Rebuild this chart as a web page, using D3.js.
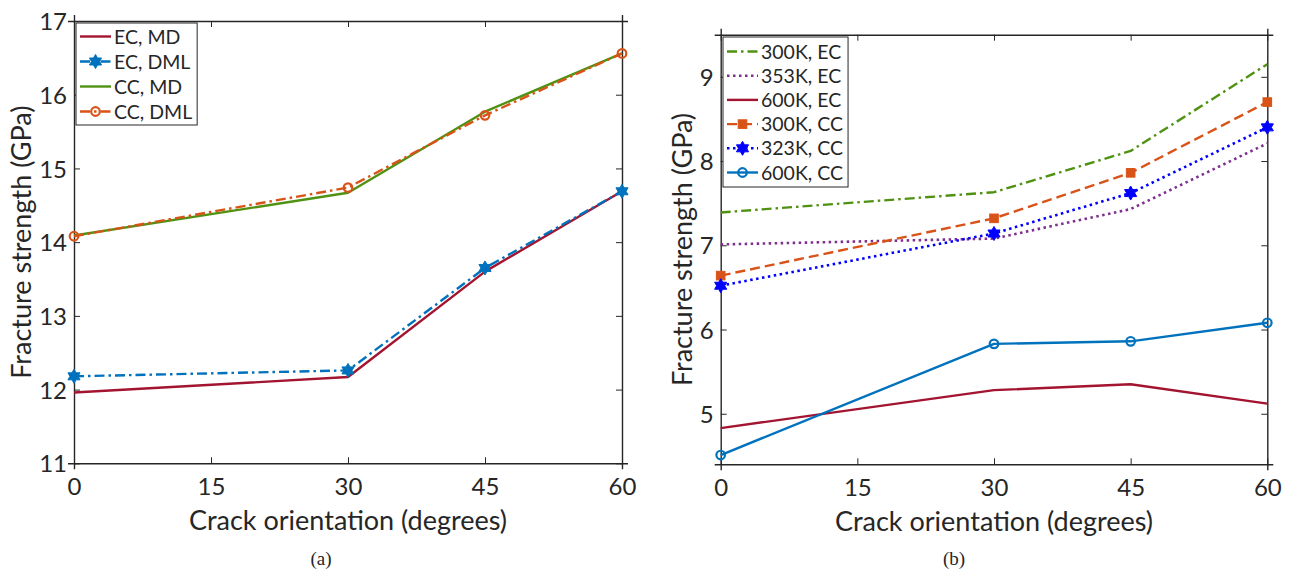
<!DOCTYPE html>
<html>
<head>
<meta charset="utf-8">
<script src="https://cdn.jsdelivr.net/npm/d3@7"></script>
<style>
  html, body { margin: 0; padding: 0; background: #fff; }
  svg { display: block; }
  text { font-family: Lato, "Open Sans", sans-serif; fill: #262626; }
</style>
</head>
<body>
<svg id="fig" width="1294" height="574"></svg>
<script>
// Crack orientation angles (degrees) where strength was evaluated
const angles = [0, 30, 45, 60];
const xTicks = [0, 15, 30, 45, 60];

// Panel (a): MD vs DML, edge crack (EC) and centre crack (CC)
const ecMD  = [11.96, 12.17, 13.60, 14.69];
const ecDML = [12.18, 12.26, 13.65, 14.69];
const ccMD  = [14.09, 14.67, 15.77, 16.56];
const ccDML = [14.08, 14.74, 15.72, 16.56];
const yTicksA = [11, 12, 13, 14, 15, 16, 17];
const labelsA = ["EC, MD", "EC, DML", "CC, MD", "CC, DML"];

// Panel (b): temperature dependence
const ec300 = [7.39, 7.63, 8.12, 9.15];
const ec353 = [7.01, 7.08, 7.43, 8.21];
const ec600 = [4.83, 5.28, 5.35, 5.12];
const cc300 = [6.64, 7.32, 7.86, 8.70];
const cc323 = [6.52, 7.14, 7.62, 8.40];
const cc600 = [4.51, 5.83, 5.86, 6.08];
const yTicksB = [5, 6, 7, 8, 9];
const labelsB = ["300K, EC", "353K, EC", "600K, EC", "300K, CC", "323K, CC", "600K, CC"];

const C = {
  red: "#A2142F", blue: "#0072BD", green: "#4F9212",
  orange: "#D95319", purple: "#7E2F8E", pure: "#0000FF"
};
const DASH = { solid: null, dashdot: "10,4,2.5,4", dashed: "10,5", dotted: "2.5,3.5" };

const svg = d3.select("#fig");

// six-pointed star marker
function hexagram(R) {
  const r = R / Math.sqrt(3), pts = [];
  for (let i = 0; i < 12; i++) {
    const a = -Math.PI / 2 + i * Math.PI / 6, rr = i % 2 ? r : R;
    pts.push([rr * Math.cos(a), rr * Math.sin(a)]);
  }
  return "M" + pts.map(p => p.join(",")).join("L") + "Z";
}

function drawMarker(g, type, color, x, y) {
  if (type === "star") {
    g.append("path").attr("d", hexagram(7)).attr("transform", `translate(${x},${y})`)
      .attr("fill", color).attr("stroke", color).attr("stroke-width", 1);
  } else if (type === "circle") {
    g.append("circle").attr("cx", x).attr("cy", y).attr("r", 4.3)
      .attr("fill", "none").attr("stroke", color).attr("stroke-width", 2.2);
  } else if (type === "square") {
    g.append("rect").attr("x", x - 4.3).attr("y", y - 4.3).attr("width", 8.6).attr("height", 8.6)
      .attr("fill", color).attr("stroke", color).attr("stroke-width", 1);
  }
}

function panel(cfg) {
  const x = d3.scaleLinear().domain([0, 60]).range([cfg.left, cfg.right]);
  const y = d3.scaleLinear().domain(cfg.yDomain).range([cfg.bottom, cfg.top]);
  const g = svg.append("g");
  const tl = 6;

  // axes with inward ticks, mirrored on top/right
  const ax = [
    d3.axisBottom(x).tickValues(xTicks).tickSize(tl).tickFormat(d3.format("d")),
    d3.axisTop(x).tickValues(xTicks).tickSize(tl).tickFormat(""),
    d3.axisLeft(y).tickValues(cfg.yTicks).tickSize(tl).tickFormat(d3.format("d")),
    d3.axisRight(y).tickValues(cfg.yTicks).tickSize(tl).tickFormat("")
  ];
  const pos = [
    `translate(0,${cfg.bottom})`, `translate(0,${cfg.top})`,
    `translate(${cfg.left},0)`, `translate(${cfg.right},0)`
  ];
  ax.forEach((a, i) => {
    const ag = g.append("g").attr("transform", pos[i]).call(a);
    ag.select(".domain").attr("stroke", "#262626").attr("stroke-width", 1.4);
    ag.selectAll(".tick line").attr("stroke", "#262626").attr("stroke-width", 1)
      .attr(i < 2 ? "y2" : "x2", [-tl, tl, tl, -tl][i]);
    ag.selectAll(".tick text").style("font-size", "24px").attr("fill", "#262626")
      .style("font-family", "Lato");
    if (i === 0) ag.selectAll(".tick text").attr("y", 15).attr("dy", "0.71em");
    if (i === 2) ag.selectAll(".tick text").attr("x", -7).attr("dy", "0.36em");
  });

  // series lines and markers
  const line = d3.line().x((d, i) => x(angles[i])).y(d => y(d));
  cfg.series.forEach(s => {
    g.append("path").datum(s.values).attr("d", line)
      .attr("fill", "none").attr("stroke", s.color).attr("stroke-width", s.width || 2.4)
      .attr("stroke-dasharray", DASH[s.dash]).attr("stroke-linejoin", "round");
    if (s.marker) s.values.forEach((v, i) => drawMarker(g, s.marker, s.color, x(angles[i]), y(v)));
  });

  // axis titles
  g.append("text").attr("x", (cfg.left + cfg.right) / 2).attr("y", cfg.bottom + 67)
    .attr("text-anchor", "middle").style("font-size", "27px").text("Crack orientation (degrees)");
  g.append("text").attr("transform", `translate(${cfg.ytitleX},${(cfg.top + cfg.bottom) / 2}) rotate(-90)`)
    .attr("text-anchor", "middle").style("font-size", "27px").text("Fracture strength (GPa)");

  // caption
  g.append("text").attr("x", cfg.capX).attr("y", 565).attr("text-anchor", "middle")
    .style("font-family", "'Liberation Serif', serif").style("font-size", "19px").attr("fill", "#000")
    .text(cfg.caption);

  // legend
  const lg = g.append("g");
  const box = lg.append("rect").attr("x", cfg.leg.x).attr("y", cfg.leg.y)
    .attr("fill", "#fff").attr("stroke", "#262626").attr("stroke-width", 1);
  let maxW = 0;
  cfg.series.forEach((s, i) => {
    const cy = cfg.leg.y + cfg.leg.first + i * cfg.leg.step;
    const x0 = cfg.leg.x + 4, x1 = x0 + 31;
    lg.append("line").attr("x1", x0).attr("x2", x1).attr("y1", cy).attr("y2", cy)
      .attr("stroke", s.color).attr("stroke-width", s.width || 2.4).attr("stroke-dasharray", DASH[s.dash]);
    if (s.marker) drawMarker(lg, s.marker, s.color, (x0 + x1) / 2, cy);
    const t = lg.append("text").attr("x", x1 + 3).attr("y", cy).attr("dy", "0.36em")
      .style("font-size", "19.5px").attr("fill", "#000").text(s.label);
    maxW = Math.max(maxW, t.node().getComputedTextLength());
  });
  box.attr("width", 38 + maxW + 5)
     .attr("height", cfg.leg.first * 2 + (cfg.series.length - 1) * cfg.leg.step);
}

panel({
  left: 74, right: 622, top: 21, bottom: 463.3,
  yDomain: [11, 17], yTicks: yTicksA, ytitleX: 31, capX: 321, caption: "(a)",
  leg: { x: 76, y: 23, first: 13.5, step: 25 },
  series: [
    { label: labelsA[0], values: ecMD,  color: C.red,    dash: "solid" },
    { label: labelsA[1], values: ecDML, color: C.blue,   dash: "dashdot", marker: "star" },
    { label: labelsA[2], values: ccMD,  color: C.green,  dash: "solid" },
    { label: labelsA[3], values: ccDML, color: C.orange, dash: "dashdot", marker: "circle" }
  ]
});

panel({
  left: 720.7, right: 1267.3, top: 34.7, bottom: 464.3,
  yDomain: [4.4, 9.5], yTicks: yTicksB, ytitleX: 692, capX: 954, caption: "(b)",
  leg: { x: 723, y: 37, first: 14.5, step: 24.2 },
  series: [
    { label: labelsB[0], values: ec300, color: C.green,  dash: "dashdot" },
    { label: labelsB[1], values: ec353, color: C.purple, dash: "dotted", width: 2.6 },
    { label: labelsB[2], values: ec600, color: C.red,    dash: "solid" },
    { label: labelsB[3], values: cc300, color: C.orange, dash: "dashed", marker: "square" },
    { label: labelsB[4], values: cc323, color: C.pure,   dash: "dotted", width: 2.6, marker: "star" },
    { label: labelsB[5], values: cc600, color: C.blue,   dash: "solid", marker: "circle" }
  ]
});
</script>
</body>
</html>
